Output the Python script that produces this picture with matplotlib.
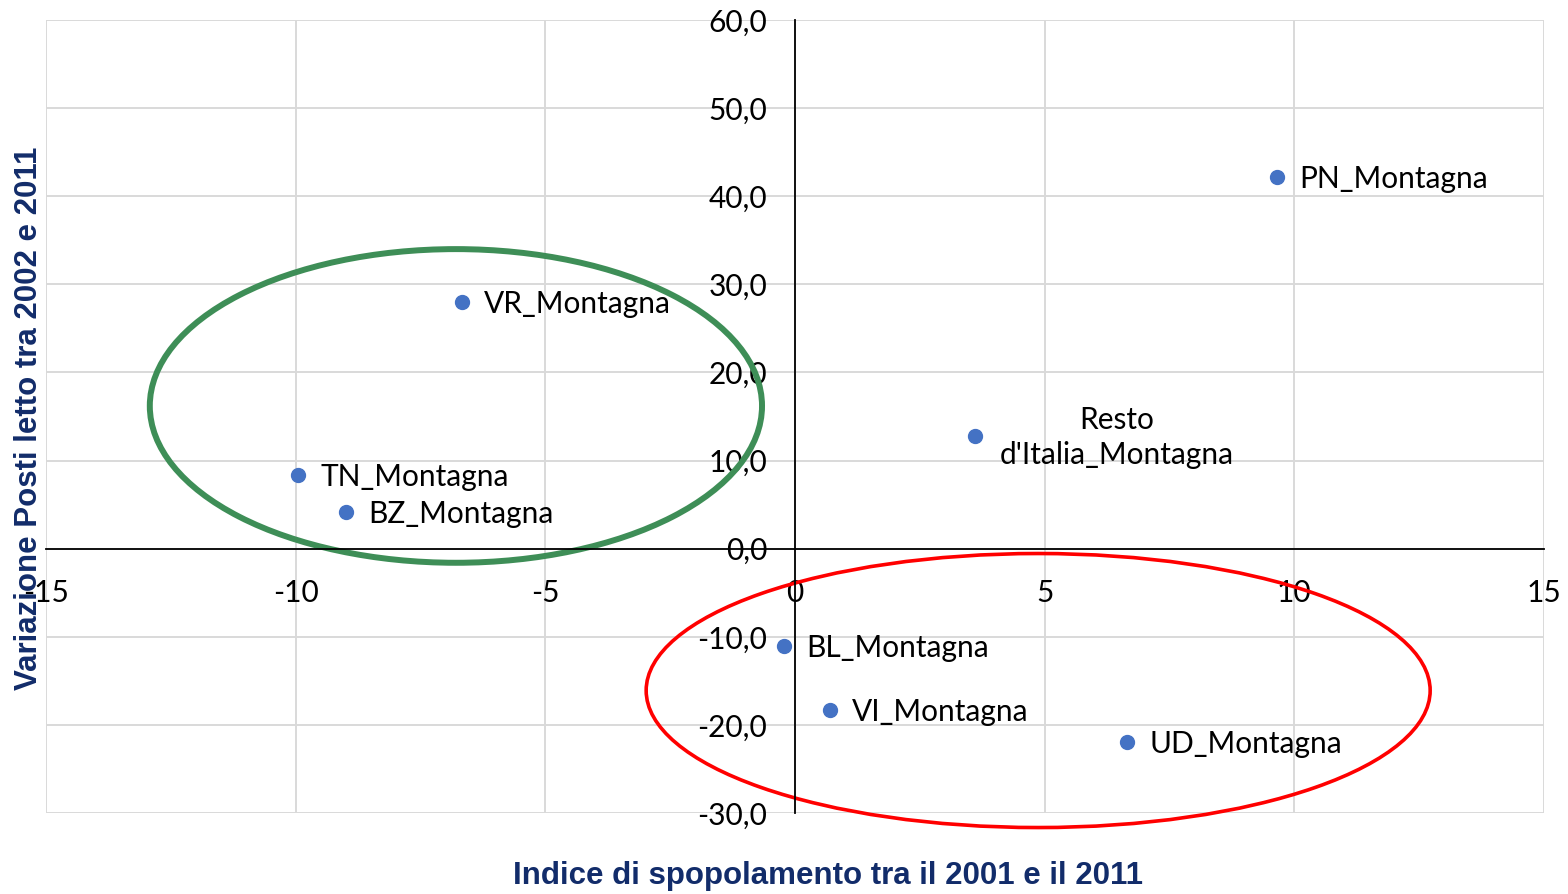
import matplotlib.pyplot as plt
from matplotlib.patches import Ellipse
from matplotlib.ticker import FuncFormatter

# dati
aree = ["PN_Montagna", "VR_Montagna", "TN_Montagna", "BZ_Montagna",
        "Resto\nd'Italia_Montagna", "BL_Montagna", "VI_Montagna", "UD_Montagna"]
spopolamento = [9.65, -6.67, -9.95, -8.99, 3.6, -0.22, 0.70, 6.65]
posti_letto = [42.2, 28.0, 8.4, 4.2, 12.8, -11.0, -18.3, -21.9]

x_ticks = [-15, -10, -5, 0, 5, 10, 15]
y_ticks = [-30, -20, -10, 0, 10, 20, 30, 40, 50, 60]

# gruppi evidenziati (centro x, centro y, larghezza, altezza)
gruppo_verde = (-6.79, 16.2, 12.26, 35.6)
gruppo_rosso = (4.87, -16.1, 15.7, 31.1)

fig = plt.figure(figsize=(15.68, 8.94), dpi=100)
ax = fig.add_axes([0.0293, 0.0906, 0.9554, 0.887])

ax.set_xlim(-15, 15)
ax.set_ylim(-30, 60)
ax.set_xticks(x_ticks)
ax.set_yticks(y_ticks)
ax.grid(True, color='#D9D9D9', linewidth=1.4)
ax.set_axisbelow(True)

for s in ['top', 'right']:
    ax.spines[s].set_visible(False)
ax.spines['left'].set_position(('data', 0))
ax.spines['bottom'].set_position(('data', 0))
ax.spines['left'].set_linewidth(1.3)
ax.spines['bottom'].set_linewidth(1.3)

ax.xaxis.set_major_formatter(FuncFormatter(lambda v, p: '%d' % v))
ax.yaxis.set_major_formatter(FuncFormatter(lambda v, p: ('%.1f' % v).replace('.', ',')))
ax.tick_params(axis='both', length=0, labelsize=21.5)
ax.tick_params(axis='x', pad=22)
ax.tick_params(axis='y', pad=20)
for lab in ax.get_xticklabels() + ax.get_yticklabels():
    lab.set_family('Lato')

ax.plot(spopolamento, posti_letto, 'o', color='#4472C4', markersize=10, zorder=3)

for nome, xv, yv in zip(aree, spopolamento, posti_letto):
    if nome.startswith('Resto'):
        ax.annotate(nome, (xv, yv), xytext=(142, -2), textcoords='offset pixels',
                    ha='center', va='center', fontsize=21.5, family='Lato',
                    linespacing=1.3, zorder=4)
    else:
        ax.annotate(nome, (xv, yv), xytext=(22, -2), textcoords='offset pixels',
                    ha='left', va='center', fontsize=21.5, family='Lato', zorder=4)

cx, cy, w, h = gruppo_verde
ax.add_patch(Ellipse((cx, cy), w, h, fill=False, edgecolor='#3E8E57',
                     linewidth=4.3, clip_on=False, zorder=2))
cx, cy, w, h = gruppo_rosso
ax.add_patch(Ellipse((cx, cy), w, h, fill=False, edgecolor='#FF0000',
                     linewidth=2.6, clip_on=False, zorder=2))

fig.text(0.0185, 0.532, 'Variazione Posti letto tra 2002 e 2011', rotation=90,
         ha='center', va='center', fontsize=22.5, fontweight='bold',
         family='Liberation Sans', color='#122C6A')
fig.text(0.528, 0.02, 'Indice di spopolamento tra il 2001 e il 2011',
         ha='center', va='center', fontsize=22.5, fontweight='bold',
         family='Liberation Sans', color='#122C6A')

fig.savefig('out.png', dpi=100)
